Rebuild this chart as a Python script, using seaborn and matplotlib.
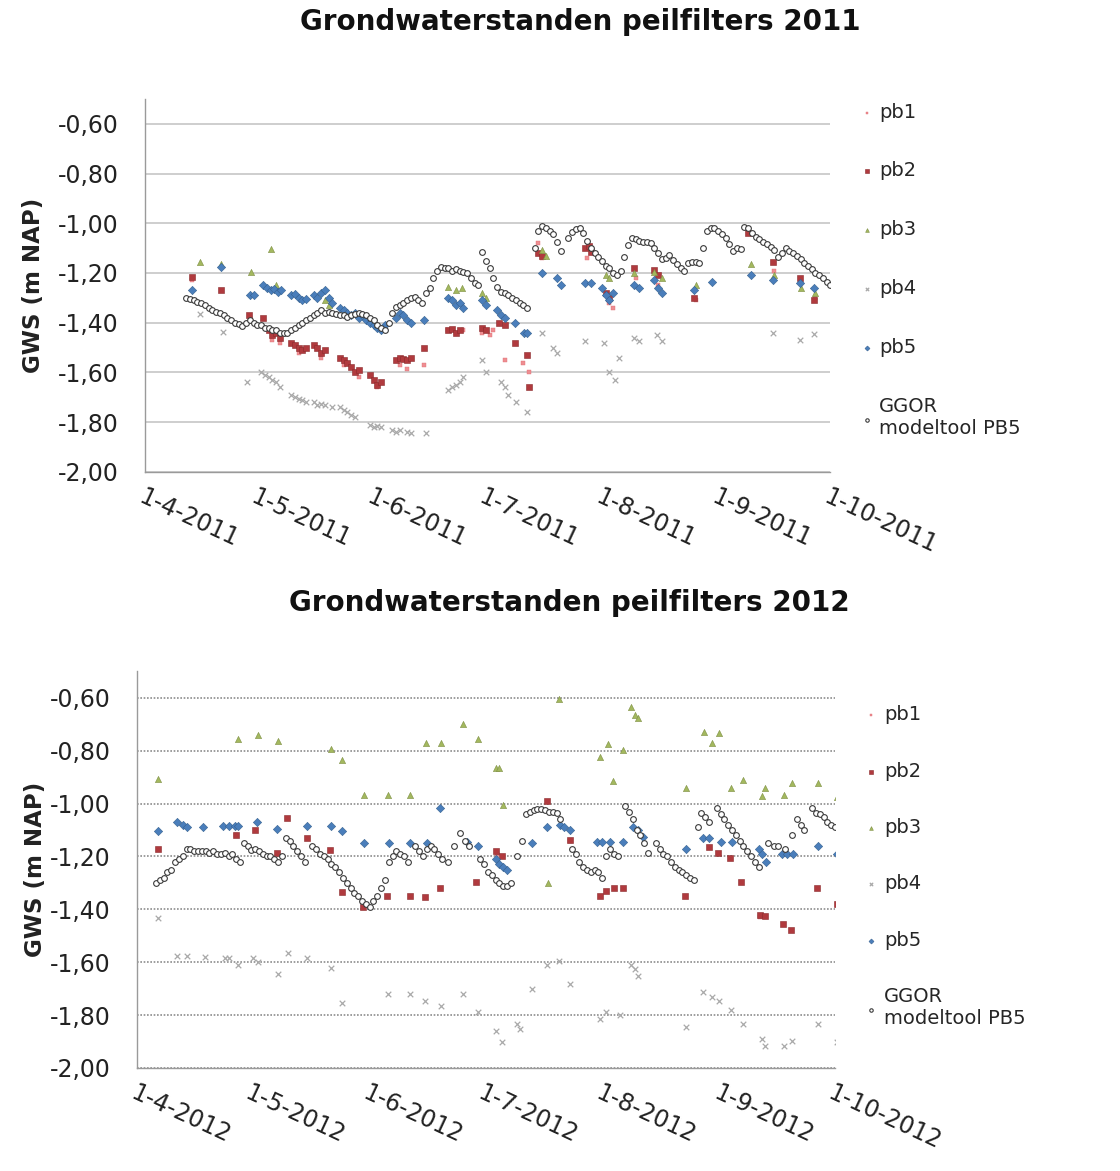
import numpy as np
import pandas as pd
import matplotlib
matplotlib.use("Agg")
import matplotlib.pyplot as plt
import seaborn as sns

# ---------------------------------------------------------------
# Groundwater levels (m NAP) per piezometer.
# *_day = days since 1 April of that year, *_gws = measured level.
# ---------------------------------------------------------------

# ----- 2011 -----
pb1_2011_day = [12.5, 28, 34, 36, 41, 47, 53, 57, 62, 68, 70, 74.5, 81, 83, 85, 90, 92, 93,
                96, 101, 102.5, 105, 106, 118, 124, 125, 131, 137, 147, 168, 175, 179]
pb1_2011_gws = [-1.23, -1.38, -1.47, -1.48, -1.52, -1.54, -1.57, -1.62, -1.66, -1.57, -1.585, -1.57,
                -1.43, -1.44, -1.43, -1.44, -1.45, -1.43, -1.55, -1.56, -1.60, -1.08, -1.14, -1.14,
                -1.32, -1.34, -1.22, -1.25, -1.31, -1.19, -1.24, -1.30]

pb2_2011_day = [12.5, 20.4, 27.7, 31.6, 33, 34, 35, 36, 39, 40, 41, 42, 43, 45, 46, 47, 48, 52, 53,
                54, 55, 56, 57, 60, 61, 62, 63, 67, 68, 69, 70, 71, 74.5, 81, 82, 83, 84, 90, 91,
                94.5, 96, 98.7, 102, 102.5, 105, 106, 117.5, 118.5, 119, 123, 124, 130.6, 136, 137,
                146.6, 161, 167.6, 174.8, 178.6]
pb2_2011_gws = [-1.218, -1.268, -1.369, -1.38, -1.43, -1.45, -1.44, -1.46, -1.48, -1.49, -1.50, -1.51,
                -1.50, -1.49, -1.50, -1.52, -1.51, -1.54, -1.55, -1.56, -1.58, -1.60, -1.59, -1.61,
                -1.63, -1.65, -1.64, -1.55, -1.54, -1.545, -1.55, -1.54, -1.50, -1.43, -1.425, -1.44,
                -1.43, -1.42, -1.43, -1.40, -1.41, -1.48, -1.53, -1.66, -1.12, -1.13, -1.10, -1.09,
                -1.115, -1.28, -1.30, -1.18, -1.187, -1.21, -1.30, -1.04, -1.155, -1.22, -1.31]

pb3_2011_day = [14.6, 20.4, 28.2, 33.7, 35, 48, 49, 81, 83, 84.5, 90, 91, 106, 107, 123, 124,
                130.6, 136, 138, 147, 161.7, 168, 175, 179]
pb3_2011_gws = [-1.154, -1.165, -1.194, -1.104, -1.25, -1.31, -1.33, -1.255, -1.27, -1.26, -1.28,
                -1.30, -1.107, -1.13, -1.21, -1.22, -1.20, -1.195, -1.22, -1.25, -1.165, -1.21,
                -1.26, -1.28]

pb4_2011_day = [14.6, 20.8, 27.3, 31, 32, 33, 34, 35, 36, 39, 40, 41, 42, 43, 45, 46, 47, 48, 50,
                52, 53, 54, 55, 56, 60, 61, 62, 63, 66, 67, 68, 70, 71, 75, 81, 82, 83, 84, 85, 90,
                91, 95, 96, 97, 99, 102, 106, 109, 110, 117.5, 122.5, 124, 125.5, 126.5, 130.6, 132,
                136.7, 138, 167.6, 174.8, 178.6]
pb4_2011_gws = [-1.364, -1.438, -1.64, -1.60, -1.61, -1.62, -1.63, -1.64, -1.66, -1.69, -1.70,
                -1.705, -1.71, -1.72, -1.72, -1.73, -1.725, -1.73, -1.74, -1.74, -1.75, -1.76, -1.77,
                -1.78, -1.81, -1.82, -1.815, -1.82, -1.83, -1.84, -1.83, -1.84, -1.845, -1.845,
                -1.67, -1.66, -1.65, -1.64, -1.62, -1.55, -1.60, -1.64, -1.66, -1.69, -1.72, -1.76,
                -1.44, -1.50, -1.52, -1.475, -1.48, -1.60, -1.63, -1.54, -1.46, -1.475, -1.45,
                -1.475, -1.44, -1.47, -1.445]

pb5_2011_day = [12.5, 20.4, 28, 29, 31.5, 32.5, 33.5, 34.5, 35.5, 36.2, 39, 40, 41, 42, 43, 45, 46,
                47, 48, 49, 50, 52, 53, 54, 55, 56, 57, 58, 59, 60, 61, 62, 63, 64, 67, 68, 69, 70,
                71, 74.5, 81, 82, 83, 84, 85, 90, 91, 94, 95, 96, 98.7, 101.3, 102, 106, 110, 111,
                117.5, 119, 122, 123, 124, 125, 130.6, 132, 136, 137, 138, 146.6, 151.5, 161.7,
                167.6, 174.8, 178.6]
pb5_2011_gws = [-1.27, -1.175, -1.288, -1.29, -1.25, -1.26, -1.27, -1.265, -1.275, -1.27, -1.29,
                -1.285, -1.30, -1.31, -1.305, -1.29, -1.30, -1.28, -1.27, -1.30, -1.32, -1.34, -1.35,
                -1.36, -1.37, -1.36, -1.38, -1.37, -1.39, -1.40, -1.41, -1.42, -1.43, -1.41, -1.38,
                -1.36, -1.37, -1.39, -1.40, -1.39, -1.30, -1.31, -1.33, -1.32, -1.34, -1.31, -1.33,
                -1.35, -1.37, -1.38, -1.40, -1.44, -1.44, -1.20, -1.22, -1.25, -1.24, -1.24, -1.26,
                -1.29, -1.31, -1.28, -1.25, -1.26, -1.23, -1.26, -1.28, -1.27, -1.236, -1.21, -1.23,
                -1.24, -1.26]

ggor_2011_day = [11, 12, 13, 14, 15, 16, 17, 18, 19, 20, 21, 22, 23, 24, 25, 26, 27, 28, 29, 30,
                 31, 32, 33, 34, 35, 36, 37, 38, 39, 40, 41, 42, 43, 44, 45, 46, 47, 48, 49, 50,
                 51, 52, 53, 54, 55, 56, 57, 58, 59, 60, 61, 62, 63, 64, 65, 66, 67, 68, 69, 70,
                 71, 72, 73, 74, 75, 76, 77, 78, 79, 80, 81, 82, 83, 84, 85, 86, 87, 88, 89, 90,
                 91, 92, 93, 94, 95, 96, 97, 98, 99, 100, 101, 102, 104, 105, 106, 107, 108, 109,
                 110, 111, 113, 114, 115, 116, 117, 118, 119, 120, 121, 122, 123, 124, 125, 126,
                 127, 128, 129, 130, 131, 132, 133, 134, 135, 136, 137, 138, 139, 140, 141, 142,
                 143, 144, 145, 146, 147, 148, 149, 150, 151, 152, 153, 154, 155, 156, 157, 158,
                 159, 160, 161, 162, 163, 164, 165, 166, 167, 168, 169, 170, 171, 172, 173, 174,
                 175, 176, 177, 178, 179, 180, 181, 182, 183]
ggor_2011_gws = [-1.300, -1.305, -1.31, -1.315, -1.32, -1.33, -1.34, -1.35, -1.355, -1.36, -1.37,
                 -1.38, -1.39, -1.40, -1.405, -1.415, -1.40, -1.39, -1.40, -1.41, -1.41, -1.42,
                 -1.42, -1.43, -1.43, -1.44, -1.44, -1.44, -1.43, -1.42, -1.41, -1.40, -1.39, -1.38,
                 -1.37, -1.36, -1.35, -1.36, -1.355, -1.36, -1.365, -1.37, -1.37, -1.375, -1.37,
                 -1.365, -1.36, -1.365, -1.37, -1.38, -1.39, -1.41, -1.42, -1.43, -1.40, -1.36,
                 -1.335, -1.33, -1.32, -1.31, -1.30, -1.295, -1.31, -1.32, -1.28, -1.26, -1.22,
                 -1.19, -1.175, -1.18, -1.18, -1.19, -1.185, -1.19, -1.195, -1.20, -1.22, -1.24,
                 -1.25, -1.115, -1.15, -1.18, -1.22, -1.255, -1.275, -1.28, -1.29, -1.30, -1.31,
                 -1.32, -1.33, -1.34, -1.10, -1.03, -1.01, -1.02, -1.03, -1.045, -1.075, -1.11,
                 -1.06, -1.035, -1.025, -1.02, -1.04, -1.07, -1.10, -1.12, -1.135, -1.15, -1.17,
                 -1.18, -1.20, -1.21, -1.19, -1.134, -1.087, -1.06, -1.065, -1.07, -1.075, -1.075,
                 -1.08, -1.10, -1.12, -1.145, -1.14, -1.127, -1.147, -1.165, -1.18, -1.19, -1.16,
                 -1.155, -1.155, -1.16, -1.10, -1.03, -1.02, -1.02, -1.03, -1.045, -1.06, -1.085,
                 -1.11, -1.10, -1.105, -1.015, -1.02, -1.04, -1.055, -1.065, -1.075, -1.085, -1.095,
                 -1.107, -1.135, -1.12, -1.10, -1.11, -1.12, -1.13, -1.145, -1.16, -1.17, -1.185,
                 -1.20, -1.21, -1.22, -1.235, -1.25]

# ----- 2012 -----
pb1_2012_day = [26, 94.5, 113.5, 163.4]
pb1_2012_gws = [-1.12, -1.19, -1.14, -1.43]

pb2_2012_day = [5.5, 26, 31, 36.7, 39.3, 44.6, 50.6, 53.8, 59.2, 65.5, 71.6, 75.5, 79.4, 89, 94,
                95.7, 107.5, 113.5, 121.4, 123, 125, 127.4, 143.7, 150, 152.3, 155.5, 158.4, 163.4,
                164.7, 169.4, 171.5, 178.3, 183.5]
pb2_2012_gws = [-1.17, -1.117, -1.10, -1.185, -1.053, -1.13, -1.177, -1.336, -1.39, -1.35, -1.35,
                -1.355, -1.32, -1.295, -1.18, -1.20, -0.99, -1.136, -1.35, -1.33, -1.32, -1.32,
                -1.35, -1.166, -1.185, -1.207, -1.298, -1.42, -1.426, -1.457, -1.48, -1.32, -1.38]

pb3_2012_day = [5.5, 26.5, 31.7, 37, 51, 53.8, 59.5, 65.8, 71.6, 75.8, 79.7, 85.5, 89.5, 94, 95,
                96, 107.8, 110.6, 121.4, 123.5, 124.7, 127.4, 129.5, 130.6, 131.4, 144, 148.7,
                150.7, 152.6, 155.7, 158.9, 163.9, 164.7, 169.6, 171.7, 178.5, 183.5]
pb3_2012_gws = [-0.906, -0.755, -0.74, -0.762, -0.793, -0.834, -0.966, -0.966, -0.966, -0.77,
                -0.77, -0.70, -0.755, -0.864, -0.864, -1.004, -1.30, -0.604, -0.823, -0.774,
                -0.913, -0.796, -0.634, -0.664, -0.675, -0.94, -0.728, -0.77, -0.732, -0.94,
                -0.909, -0.973, -0.94, -0.966, -0.921, -0.921, -0.974]

pb4_2012_day = [5.5, 10.5, 13, 17.8, 23, 24, 26.5, 30.4, 31.7, 37, 39.6, 44.6, 51, 53.8, 65.8,
                71.6, 75.5, 79.7, 85.5, 89.4, 94, 95.7, 99.6, 100.4, 103.6, 107.5, 110.6, 113.5,
                121.4, 123, 126.6, 129.5, 130.6, 131.4, 144, 148.4, 150.7, 152.6, 155.7, 158.9,
                163.9, 164.7, 169.6, 171.7, 178.5, 183.5]
pb4_2012_gws = [-1.434, -1.577, -1.577, -1.58, -1.585, -1.585, -1.61, -1.585, -1.60, -1.645,
                -1.566, -1.585, -1.623, -1.755, -1.72, -1.72, -1.747, -1.766, -1.72, -1.79, -1.86,
                -1.90, -1.834, -1.853, -1.70, -1.61, -1.596, -1.683, -1.815, -1.79, -1.80, -1.61,
                -1.627, -1.653, -1.845, -1.713, -1.73, -1.747, -1.78, -1.834, -1.89, -1.917,
                -1.917, -1.898, -1.834, -1.90]

pb5_2012_day = [5.5, 10.5, 12, 13, 17.3, 22.5, 24, 25.7, 26.5, 31.5, 36.7, 44.6, 51, 53.8, 59.5,
                66, 71.6, 76, 79.4, 86.5, 89.4, 94, 95, 96, 97, 103.6, 107.5, 111, 112, 113.5,
                120.6, 122, 124, 127.4, 130, 131.3, 132.7, 144, 148.4, 150, 153, 156, 163, 164,
                165, 169, 170.5, 172, 178.5, 183.5]
pb5_2012_gws = [-1.105, -1.07, -1.08, -1.09, -1.087, -1.083, -1.083, -1.083, -1.083, -1.07,
                -1.095, -1.083, -1.083, -1.105, -1.15, -1.15, -1.15, -1.15, -1.015, -1.147, -1.16,
                -1.21, -1.23, -1.24, -1.25, -1.15, -1.09, -1.08, -1.09, -1.10, -1.147, -1.147,
                -1.147, -1.147, -1.087, -1.10, -1.125, -1.17, -1.13, -1.13, -1.145, -1.147, -1.17,
                -1.19, -1.22, -1.19, -1.19, -1.19, -1.16, -1.19]

ggor_2012_day = [5, 6, 7, 8, 9, 10, 11, 12, 13, 14, 15, 16, 17, 18, 19, 20, 21, 22, 23, 24, 25,
                 26, 27, 28, 29, 30, 31, 32, 33, 34, 35, 36, 37, 38, 39, 40, 41, 42, 43, 44, 46,
                 47, 48, 49, 50, 51, 52, 53, 54, 55, 56, 57, 58, 59, 60, 61, 62, 63, 64, 65, 66,
                 67, 68, 69, 70, 71, 73, 74, 75, 76, 77, 78, 79, 80, 81.5, 83, 84.7, 86, 87, 90,
                 91, 92, 93, 94, 95, 96, 97, 98, 99.6, 101, 102, 103, 104, 105, 106, 107, 108,
                 109, 110, 111, 114, 115, 116, 117, 118, 119, 120, 121, 122, 123, 124, 125, 126,
                 128, 129, 130, 131, 132, 133, 134, 136, 137, 138, 139, 140, 141, 142, 143, 144,
                 145, 146, 147, 148, 149, 150, 152, 153, 154, 155, 156, 157, 158, 159, 160, 161,
                 162, 163, 165.5, 167, 168, 170, 171.7, 173, 174, 175, 177, 178, 179, 180, 181,
                 182, 183]
ggor_2012_gws = [-1.30, -1.29, -1.28, -1.26, -1.25, -1.22, -1.21, -1.20, -1.17, -1.17, -1.18,
                 -1.18, -1.18, -1.18, -1.185, -1.18, -1.19, -1.19, -1.185, -1.20, -1.19, -1.21,
                 -1.22, -1.15, -1.16, -1.175, -1.17, -1.18, -1.19, -1.20, -1.20, -1.21, -1.22,
                 -1.20, -1.13, -1.14, -1.16, -1.18, -1.20, -1.22, -1.16, -1.17, -1.19, -1.20,
                 -1.21, -1.23, -1.24, -1.26, -1.28, -1.30, -1.32, -1.34, -1.35, -1.37, -1.38,
                 -1.39, -1.37, -1.35, -1.32, -1.29, -1.22, -1.20, -1.18, -1.19, -1.20, -1.22,
                 -1.16, -1.18, -1.20, -1.17, -1.16, -1.17, -1.19, -1.21, -1.22, -1.16, -1.11,
                 -1.14, -1.16, -1.21, -1.23, -1.26, -1.27, -1.29, -1.30, -1.31, -1.31, -1.30,
                 -1.20, -1.14, -1.04, -1.03, -1.025, -1.02, -1.02, -1.025, -1.03, -1.03, -1.035,
                 -1.06, -1.17, -1.19, -1.22, -1.24, -1.25, -1.26, -1.25, -1.26, -1.28, -1.20,
                 -1.17, -1.19, -1.20, -1.01, -1.03, -1.06, -1.10, -1.12, -1.15, -1.185, -1.15,
                 -1.17, -1.19, -1.20, -1.22, -1.24, -1.25, -1.26, -1.27, -1.28, -1.29, -1.09,
                 -1.035, -1.05, -1.07, -1.015, -1.04, -1.06, -1.08, -1.10, -1.12, -1.14, -1.16,
                 -1.18, -1.20, -1.22, -1.24, -1.15, -1.16, -1.16, -1.17, -1.117, -1.06, -1.08,
                 -1.10, -1.015, -1.035, -1.04, -1.05, -1.07, -1.08, -1.09]

# Axis text
y_ticks = [-2.0, -1.8, -1.6, -1.4, -1.2, -1.0, -0.8, -0.6]
y_ticklabels = ["-2,00", "-1,80", "-1,60", "-1,40", "-1,20", "-1,00", "-0,80", "-0,60"]
x_ticklabels_2011 = ["1-4-2011", "1-5-2011", "1-6-2011", "1-7-2011", "1-8-2011", "1-9-2011", "1-10-2011"]
x_ticklabels_2012 = ["1-4-2012", "1-5-2012", "1-6-2012", "1-7-2012", "1-8-2012", "1-9-2012", "1-10-2012"]
series_labels = ["pb1", "pb2", "pb3", "pb4", "pb5", "GGOR\nmodeltool PB5"]

# Marker appearance per series
STYLES = {
    "pb1": dict(marker="s", s=9, color="#EE8E92", edgecolor="#E07075", linewidth=0.3),
    "pb2": dict(marker="s", s=18, color="#B03A3E", edgecolor="#8A2A2C", linewidth=0.4),
    "pb3": dict(marker="^", s=20, color="#A3B85E", edgecolor="#7E8F44", linewidth=0.4),
    "pb4": dict(marker="x", s=16, color="#A9A9A9", linewidth=0.9),
    "pb5": dict(marker="D", s=18, color="#4A7EBB", edgecolor="#35608F", linewidth=0.4),
    "GGOR\nmodeltool PB5": dict(marker="o", s=17, color="white", edgecolor="#3A3A3A", linewidth=0.8),
}

sns.set_style("white")
plt.rcParams["font.family"] = ["DejaVu Sans"]

TICK_FS = 17
TEXT_COLOR = "#222222"


def to_dates(year, days):
    return pd.Timestamp(f"{year}-04-01") + pd.to_timedelta(np.asarray(days, dtype=float), unit="D")


def draw_panel(ax, year, series, xlabels, grid_style, legend_top, legend_spacing, ylabel_pad):
    for label, (days, gws) in zip(series_labels, series):
        df = pd.DataFrame({"datum": to_dates(year, days), "gws": gws})
        sns.scatterplot(data=df, x="datum", y="gws", ax=ax, label=label, zorder=3,
                        **STYLES[label])
    month_starts = pd.date_range(f"{year}-04-01", f"{year}-10-01", freq="MS")
    ax.set_xlim(month_starts[0], month_starts[-1])
    ax.set_ylim(-2.0, -0.5)
    ax.set_xticks(month_starts)
    ax.set_xticklabels(xlabels, rotation=-25, ha="left", va="top",
                       rotation_mode="anchor", fontsize=TICK_FS, color=TEXT_COLOR)
    ax.set_yticks(y_ticks)
    ax.set_yticklabels(y_ticklabels, fontsize=TICK_FS, color=TEXT_COLOR)
    ax.set_xlabel("")
    ax.set_ylabel("GWS (m NAP)", fontsize=16.5, fontweight="bold", color=TEXT_COLOR,
                  labelpad=ylabel_pad)
    ax.yaxis.grid(True, **grid_style)
    ax.xaxis.grid(False)
    ax.set_axisbelow(True)
    for side in ("top", "right"):
        ax.spines[side].set_visible(False)
    for side in ("left", "bottom"):
        ax.spines[side].set_color("#9A9A9A")
        ax.spines[side].set_linewidth(1.0)
    ax.tick_params(axis="both", which="major", direction="out", length=6, width=1,
                   color="#9A9A9A")
    ax.tick_params(axis="y", pad=13)
    ax.tick_params(axis="x", pad=3)
    ax.legend(loc="upper left", bbox_to_anchor=(1.03, legend_top), frameon=False, fontsize=14,
              markerscale=0.6, labelspacing=legend_spacing, handletextpad=0.25,
              handlelength=0.8, borderaxespad=0.0)


fig = plt.figure(figsize=(11.2, 11.71), dpi=100)
ax1 = fig.add_axes([0.1295, 0.597, 0.612, 0.3185])
ax2 = fig.add_axes([0.1223, 0.088, 0.6232, 0.3386])

series_2011 = [(pb1_2011_day, pb1_2011_gws), (pb2_2011_day, pb2_2011_gws),
               (pb3_2011_day, pb3_2011_gws), (pb4_2011_day, pb4_2011_gws),
               (pb5_2011_day, pb5_2011_gws), (ggor_2011_day, ggor_2011_gws)]
series_2012 = [(pb1_2012_day, pb1_2012_gws), (pb2_2012_day, pb2_2012_gws),
               (pb3_2012_day, pb3_2012_gws), (pb4_2012_day, pb4_2012_gws),
               (pb5_2012_day, pb5_2012_gws), (ggor_2012_day, ggor_2012_gws)]

draw_panel(ax1, 2011, series_2011, x_ticklabels_2011,
           dict(color="#C6C6C6", linewidth=1.2, linestyle="-"), 1.011, 2.05, 9)
draw_panel(ax2, 2012, series_2012, x_ticklabels_2012,
           dict(color="#8C8C8C", linewidth=1.2, linestyle=(0, (1, 1))), 0.934, 1.92, 2)

fig.text(0.518, 1 - 22 / 1171, "Grondwaterstanden peilfilters 2011", ha="center", va="center",
         fontsize=20, fontweight="bold", color="#111111")
fig.text(0.508, 1 - 603 / 1171, "Grondwaterstanden peilfilters 2012", ha="center", va="center",
         fontsize=20, fontweight="bold", color="#111111")

fig.savefig("out.png", dpi=100, facecolor="white")
